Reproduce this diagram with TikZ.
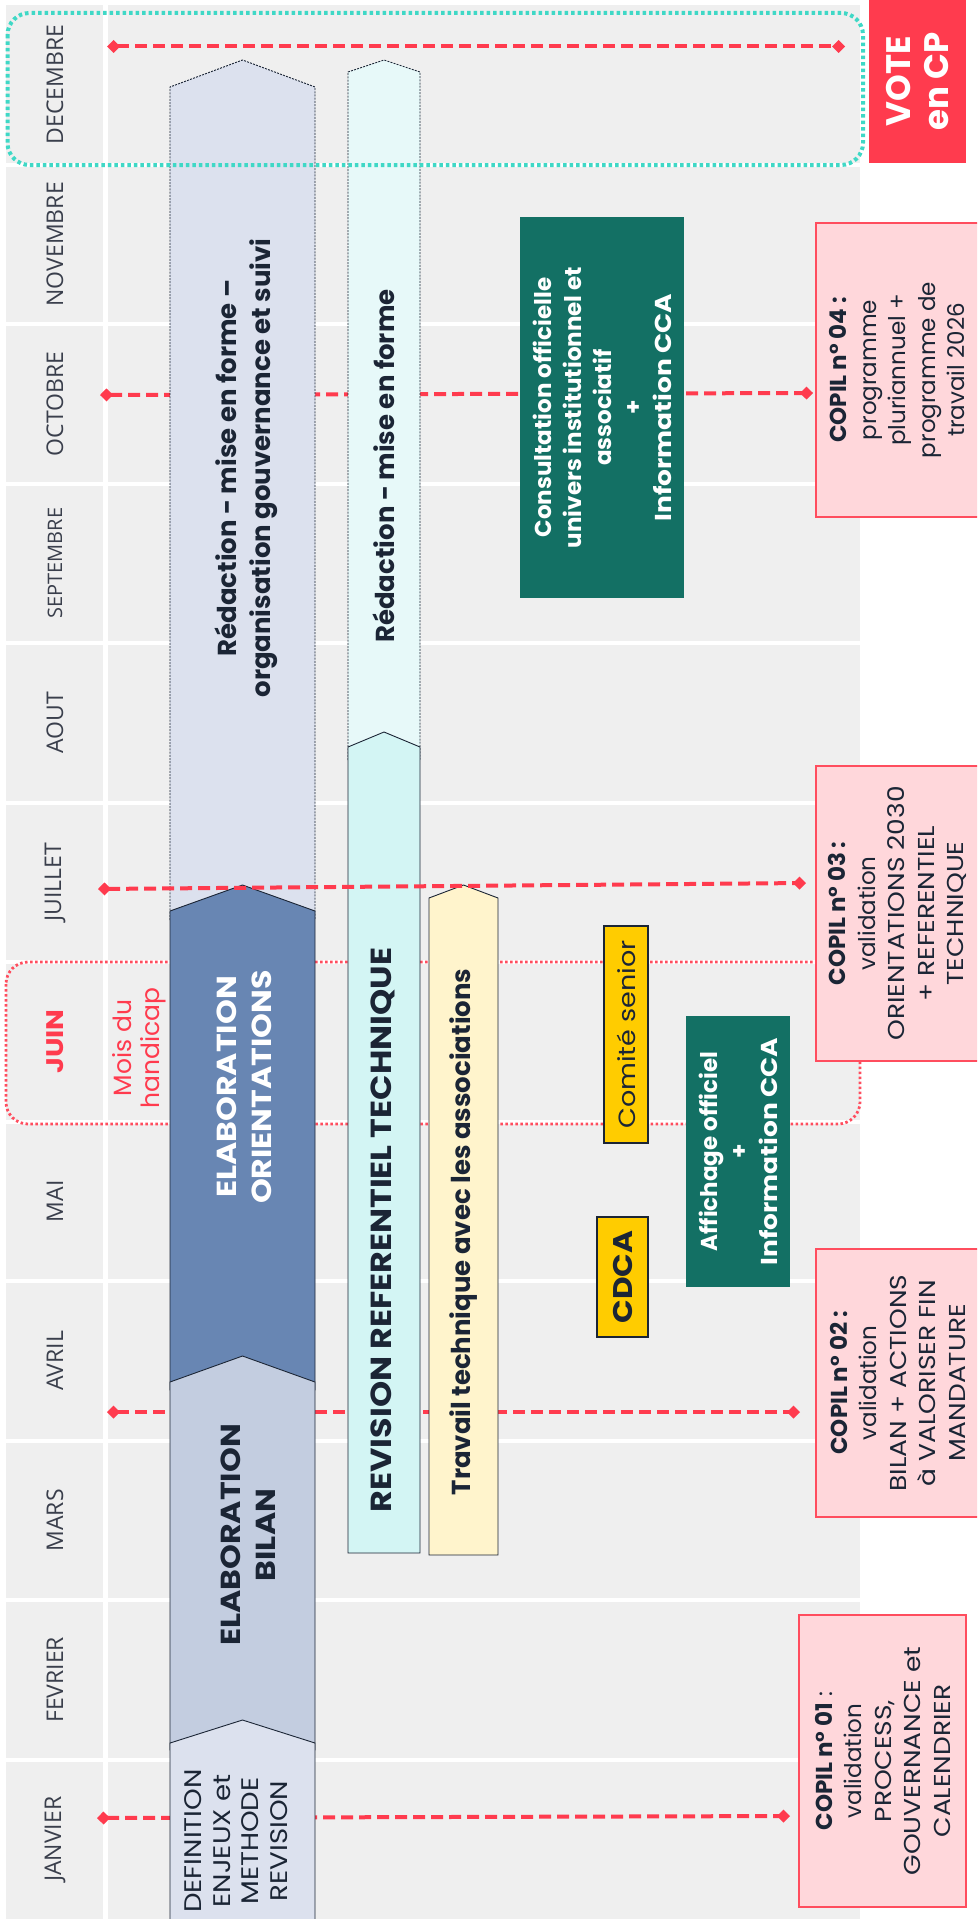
\documentclass[tikz,border=0pt]{standalone}
\usepackage{fontspec}
\setmainfont{Poppins}
\newfontfamily\capsfamily{Poppins}[FakeStretch=1.15]
\newfontfamily\monthfont{Open Sans}
\usetikzlibrary{arrows.meta, positioning}

\definecolor{fond}{HTML}{EFEFEF}
\definecolor{encre}{HTML}{1B2535}
\definecolor{mois}{HTML}{3A3F4C}
\definecolor{rouge}{HTML}{FF3B4E}
\definecolor{turquoise}{HTML}{3FD8C6}
\definecolor{bleupale}{HTML}{DCE1EE}
\definecolor{bleugris}{HTML}{C3CDE0}
\definecolor{bleu}{HTML}{6886B3}
\definecolor{cyanpale}{HTML}{E7F9F9}
\definecolor{cyanref}{HTML}{D3F5F4}
\definecolor{jaunepale}{HTML}{FFF4CC}
\definecolor{vert}{HTML}{137064}
\definecolor{jaune}{HTML}{FFCC00}
\definecolor{rose}{HTML}{FFD7DB}
\definecolor{rosebord}{HTML}{FF4D5E}

\begin{document}
\begin{tikzpicture}[x=1pt, y=-1pt,
moislabel/.style = {rotate=90, text=mois, font=\monthfont\fontsize{23}{27}\selectfont},
moispetit/.style = {moislabel, font=\monthfont\fontsize{20}{24}\selectfont},
moisjuin/.style = {moislabel, text=rouge, font=\capsfamily\bfseries\fontsize{24}{28}\selectfont},
chev/.style = {draw=encre, line width=0.9pt, line join=miter},
chevdash/.style = {chev, dash pattern=on 2pt off 1.2pt},
chevtext/.style = {rotate=90, align=center, text=encre,
	font=\bfseries\fontsize{26}{34}\selectfont},
chevcaps/.style = {chevtext, font=\capsfamily\bfseries\fontsize{27.5}{35}\selectfont},
bloc/.style = {rotate=90, align=center, inner sep=0pt},
vertbox/.style = {bloc, fill=vert, text=white,
	font=\bfseries\fontsize{23}{30}\selectfont},
jaunebox/.style = {bloc, fill=jaune, draw=encre, line width=1.2pt, text=encre},
copil/.style = {bloc, fill=rose, draw=rosebord, line width=1.5pt, text=encre,
	font=\fontsize{23}{29.5}\selectfont},
jalon/.style = {draw=rouge, line width=4pt, dash pattern=on 12pt off 6pt,
	{Diamond[length=13pt,width=13pt]}-{Diamond[length=13pt,width=13pt]}}
]
\useasboundingbox (0,0) rectangle (977,1919);
\clip (0,0) rectangle (977,1919);

% Draw the month grid
\fill[fond] (6,5) rectangle (860,1919);
\foreach \i in {1,...,11}
\draw[white, line width=4pt] (6,{5+159.5*\i}) -- (860,{5+159.5*\i});
\draw[white, line width=5pt] (105,5) -- (105,1919);
\foreach \m/\s [count=\i from 0] in {DECEMBRE/moislabel, NOVEMBRE/moislabel,
	OCTOBRE/moislabel, SEPTEMBRE/moispetit, AOUT/moislabel, JUILLET/moislabel,
	JUIN/moisjuin, MAI/moislabel, AVRIL/moislabel, MARS/moislabel,
	FEVRIER/moislabel, JANVIER/moislabel}
\node[\s] (m-\i) at (55,{84.75+159.5*\i}) {\m};

% Mois du handicap
\draw[rosebord, line width=2.8pt, dash pattern=on 2.5pt off 2.5pt, rounded corners=22pt]
(6,962) rectangle (860,1124);
\node[rotate=90, align=center, text=rouge, font=\fontsize{25}{28}\selectfont]
(handicap) at (139,1048) {Mois du\\handicap};

% Coordinates of the milestones
\foreach \n/\xl/\yl/\xr/\yr in {dec/107/46.5/845/46.5, oct/100/395/813/393,
	jul/98/889/806/883, avr/107/1412/800/1412, jan/97/1818/790/1816}
{
	\coordinate (\n-l) at (\xl,\yl);
	\coordinate (\n-r) at (\xr,\yr);
}
\foreach \n in {dec,oct,avr,jan}
\draw[jalon] (\n-l) -- (\n-r);

% Draw the first column
\draw[chevdash, fill=bleupale] (170,920) -- (170,87) -- (242.5,60) -- (315,87) -- (315,920) -- cycle;
\draw[chev, fill=bleu] (170,1390) -- (170,911) -- (242.5,885) -- (315,911) -- (315,1390) -- cycle;
\draw[chev, fill=bleugris] (170,1750) -- (170,1382) -- (242.5,1356) -- (315,1382) -- (315,1750) -- cycle;
\draw[chev, fill=bleupale] (170,1930) -- (170,1743) -- (242.5,1720) -- (315,1743) -- (315,1930) -- cycle;
\node[chevtext] (redac1) at (246,468)
{Rédaction - mise en forme –\\organisation gouvernance et suivi};
\node[chevcaps, text=white] (orient) at (244,1087) {ELABORATION\\ORIENTATIONS};
\node[chevcaps] (bilan) at (248,1535) {ELABORATION\\BILAN};
\node[chevtext, font=\capsfamily\fontsize{24}{28.5}\selectfont] (defin) at (236,1841)
{DEFINITION\\ENJEUX et\\METHODE\\REVISION};

% Draw the second and third columns
\draw[chevdash, fill=cyanpale] (348,760) -- (348,72) -- (384,60) -- (420,72) -- (420,760) -- cycle;
\draw[chev, fill=cyanref] (348,1553) -- (348,747) -- (384,732) -- (420,747) -- (420,1553) -- cycle;
\draw[chev, fill=jaunepale] (429,1555) -- (429,898) -- (463.5,885) -- (498,898) -- (498,1555) -- cycle;
\node[chevtext] (redac2) at (384,466) {Rédaction - mise en forme};
\node[chevcaps, font=\capsfamily\bfseries\fontsize{29}{34}\selectfont] (revis) at (383,1230)
{REVISION REFERENTIEL TECHNIQUE};
\node[chevtext] (travail) at (464,1232) {Travail technique avec les associations};

% Draw the events
\node[vertbox, minimum width=381pt, minimum height=164pt] (consult) at (602,407.5)
{Consultation officielle\\univers institutionnel et\\associatif\\+\\{\capsfamily Information CCA}};
\node[vertbox, minimum width=271pt, minimum height=104pt] (affich) at (738,1151.5)
{Affichage officiel\\+\\{\capsfamily Information CCA}};
\node[jaunebox, minimum width=217pt, minimum height=44pt,
font=\capsfamily\fontsize{23.5}{27}\selectfont] (senior) at (626,1034.5) {Comité senior};
\node[jaunebox, minimum width=120pt, minimum height=51pt,
font=\capsfamily\bfseries\fontsize{27}{30}\selectfont] (cdca) at (622.5,1277) {CDCA};

% Draw the COPIL nodes
\node[copil, minimum width=294pt, minimum height=163pt] (copil4) at (897.5,370)
{\textbf{COPIL n° 04 :}\\programme\\pluriannuel +\\programme de\\travail 2026};
\node[copil, minimum width=295pt, minimum height=163pt] (copil3) at (897.5,913.5)
{\textbf{COPIL n° 03 :}\\validation\\{\capsfamily ORIENTATIONS 2030}\\{\capsfamily + REFERENTIEL}\\{\capsfamily TECHNIQUE}};
\node[copil, minimum width=268pt, minimum height=163pt] (copil2) at (897.5,1383)
{\textbf{COPIL n° 02 :}\\validation\\{\capsfamily BILAN + ACTIONS}\\{\capsfamily à VALORISER FIN}\\{\capsfamily MANDATURE}};
\node[copil, minimum width=292pt, minimum height=167pt] (copil1) at (882.5,1761)
{\textbf{COPIL n° 01} :\\validation\\{\capsfamily PROCESS,}\\{\capsfamily GOUVERNANCE et}\\{\capsfamily CALENDRIER}};
\node[bloc, fill=rouge, text=white, minimum width=163pt, minimum height=97pt,
font=\bfseries\fontsize{34}{38}\selectfont] (vote) at (917.5,81.5) {VOTE\\en CP};

% July milestone and December frame on top
\draw[jalon] (jul-l) -- (jul-r);
\draw[turquoise, line width=4pt, dash pattern=on 3.5pt off 3pt, rounded corners=22pt]
(7.5,13) rectangle (863,165);
\end{tikzpicture}
\end{document}
